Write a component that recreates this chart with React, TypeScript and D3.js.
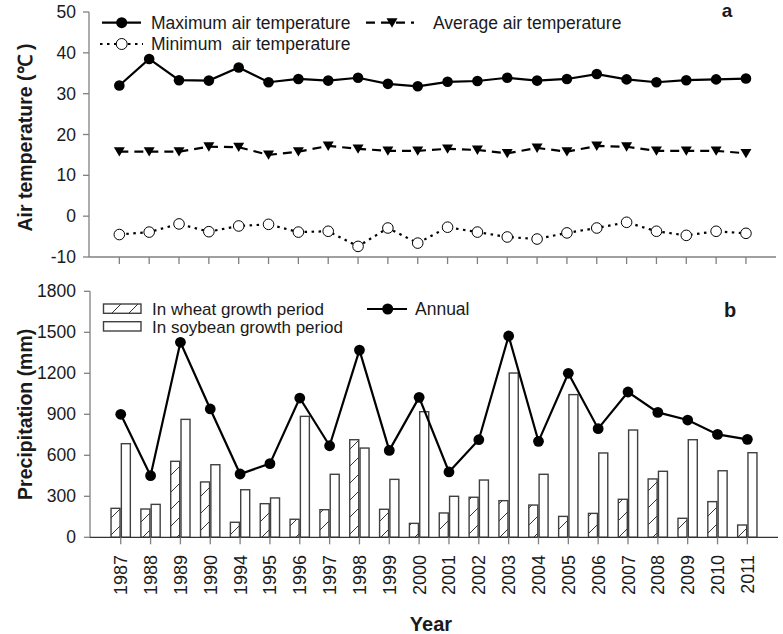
import React from "react";
import * as d3 from "d3";

const years = ["1987","1988","1989","1990","1994","1995","1996","1997","1998","1999","2000","2001","2002","2003","2004","2005","2006","2007","2008","2009","2010","2011"];
const maxTemp = [32.0,38.5,33.3,33.2,36.4,32.8,33.6,33.2,33.9,32.4,31.8,32.9,33.1,33.9,33.2,33.6,34.8,33.5,32.8,33.3,33.5,33.7];
const avgTemp = [15.8,15.8,15.8,17.0,16.9,15.0,15.8,17.2,16.5,16.0,16.0,16.5,16.2,15.4,16.7,15.8,17.2,17.0,16.0,16.0,16.0,15.4];
const minTemp = [-4.5,-3.9,-1.9,-3.8,-2.4,-2.0,-3.9,-3.7,-7.4,-2.9,-6.6,-2.7,-3.9,-5.1,-5.6,-4.1,-2.9,-1.5,-3.7,-4.7,-3.7,-4.2];
const annualPrecip = [900,451,1427,939,463,539,1019,670,1370,636,1024,478,714,1473,702,1200,795,1063,914,858,753,717];
const wheatPrecip = [212,207,556,405,110,246,132,202,714,205,102,178,293,268,236,153,175,278,427,139,261,90];
const soyPrecip = [685,241,863,531,348,288,885,461,653,424,919,300,419,1202,461,1044,617,785,483,714,487,619];
const tempTicks = [-10,0,10,20,30,40,50];
const precipTicks = [0,300,600,900,1200,1500,1800];

const FONT = "'Liberation Sans', Arial, sans-serif";
const TXT = "#1a1a1a";
const AX = "#808080";

export default function App() {
  const idx = years.map((_, i) => i);
  const xTop = d3.scaleLinear().domain([-1, 22]).range([89.5, 775.8]);
  const xBot = d3.scaleLinear().domain([-1, 22]).range([90.9, 777.2]);
  const yTop = d3.scaleLinear().domain([-10, 50]).range([257, 12]);
  const yBot = d3.scaleLinear().domain([0, 1800]).range([537.3, 291.3]);

  const lineTop = (vals: number[]) =>
    d3.line<number>().x((_, i) => xTop(i)).y((v) => yTop(v))(vals) || "";
  const lineBot = d3.line<number>().x((_, i) => xBot(i)).y((v) => yBot(v))(annualPrecip) || "";

  const tri = (cx: number, cy: number, s = 5.5) =>
    `M${cx - s},${cy - s * 0.8}L${cx + s},${cy - s * 0.8}L${cx},${cy + s * 0.9}Z`;

  return (
    <svg width={783} height={634} style={{ position: "absolute", left: 0, top: 0, background: "#fff" }} fontFamily={FONT}>
      <defs>
        <pattern id="hatch" patternUnits="userSpaceOnUse" width={17} height={17}>
          <rect width={17} height={17} fill="#fff" />
          <path d="M0,17L17,0M-4,4L4,-4M13,21L21,13" stroke="#333" strokeWidth={1} />
        </pattern>
      </defs>

      {/* ===== Panel a ===== */}
      <line x1={89} x2={89} y1={yTop(50)} y2={yTop(-10)} stroke={AX} strokeWidth={1.3} />
      <line x1={89} x2={776} y1={yTop(-10)} y2={yTop(-10)} stroke={AX} strokeWidth={1.3} />
      {tempTicks.map((t) => (
        <g key={"tt" + t}>
          <line x1={83} x2={89} y1={yTop(t)} y2={yTop(t)} stroke={AX} strokeWidth={1.3} />
          <text x={76} y={yTop(t) + 6} textAnchor="end" fontSize={17.5} fill={TXT}>{t}</text>
        </g>
      ))}
      {idx.map((i) => (
        <line key={"xt" + i} x1={xTop(i)} x2={xTop(i)} y1={yTop(-10)} y2={yTop(-10) + 7} stroke={AX} strokeWidth={1.3} />
      ))}
      <text transform={`translate(32,${(yTop(50) + yTop(-10)) / 2 + 3}) rotate(-90)`} textAnchor="middle" fontSize={19.5} fontWeight="bold" fill={TXT} style={{ whiteSpace: "pre" }}>Air temperature (℃ )</text>

      <path d={lineTop(maxTemp)} fill="none" stroke="#000" strokeWidth={2.2} />
      <path d={lineTop(avgTemp)} fill="none" stroke="#000" strokeWidth={2.2} strokeDasharray="9,6" />
      <path d={lineTop(minTemp)} fill="none" stroke="#000" strokeWidth={2.2} strokeDasharray="2.5,4.5" />
      {maxTemp.map((v, i) => <circle key={"mx" + i} cx={xTop(i)} cy={yTop(v)} r={5.3} fill="#000" />)}
      {avgTemp.map((v, i) => <path key={"av" + i} d={tri(xTop(i), yTop(v))} fill="#000" />)}
      {minTemp.map((v, i) => <circle key={"mn" + i} cx={xTop(i)} cy={yTop(v)} r={5.3} fill="#fff" stroke="#000" strokeWidth={1} />)}

      {/* legend a */}
      <line x1={102} x2={141} y1={22.7} y2={22.7} stroke="#000" strokeWidth={2.2} />
      <circle cx={121.7} cy={22.7} r={5.5} fill="#000" />
      <text x={151} y={28.5} fontSize={17.5} fill={TXT}>Maximum air temperature</text>
      <line x1={100} x2={143} y1={44} y2={44} stroke="#000" strokeWidth={2.2} strokeDasharray="2.5,4.5" />
      <circle cx={121.7} cy={44} r={5.5} fill="#fff" stroke="#000" strokeWidth={1} />
      <text x={151} y={50} fontSize={17.5} fill={TXT} style={{ whiteSpace: "pre" }}>Minimum  air temperature</text>
      <line x1={366} x2={414} y1={22.7} y2={22.7} stroke="#000" strokeWidth={2.2} strokeDasharray="9,6" />
      <path d={tri(392, 22.7)} fill="#000" />
      <text x={433} y={28.5} fontSize={17.5} fill={TXT}>Average air temperature</text>
      <text x={727} y={16.5} textAnchor="middle" fontSize={19} fontWeight="bold" fill={TXT}>a</text>

      {/* ===== Panel b ===== */}
      {idx.map((i) => (
        <g key={"bar" + i}>
          <rect x={xBot(i) - 9.7} y={yBot(wheatPrecip[i])} width={9} height={yBot(0) - yBot(wheatPrecip[i])} fill="url(#hatch)" stroke="#404040" strokeWidth={1.4} />
          <rect x={xBot(i) + 0.6} y={yBot(soyPrecip[i])} width={9} height={yBot(0) - yBot(soyPrecip[i])} fill="#fff" stroke="#404040" strokeWidth={1.4} />
        </g>
      ))}
      <line x1={90} x2={90} y1={yBot(1800)} y2={yBot(0)} stroke={AX} strokeWidth={1.3} />
      <line x1={90} x2={778} y1={yBot(0)} y2={yBot(0)} stroke="#333" strokeWidth={1.3} />
      {precipTicks.map((t) => (
        <g key={"pt" + t}>
          <line x1={84} x2={90} y1={yBot(t)} y2={yBot(t)} stroke={AX} strokeWidth={1.3} />
          <text x={76} y={yBot(t) + 6} textAnchor="end" fontSize={17.5} fill={TXT}>{t}</text>
        </g>
      ))}
      {idx.map((i) => (
        <g key={"xb" + i}>
          <line x1={xBot(i)} x2={xBot(i)} y1={yBot(0)} y2={yBot(0) + 7} stroke={AX} strokeWidth={1.3} />
          <text transform={`translate(${xBot(i) + 6.5},555) rotate(-90)`} textAnchor="end" fontSize={18} fill={TXT}>{years[i]}</text>
        </g>
      ))}
      <path d={lineBot} fill="none" stroke="#000" strokeWidth={2.2} />
      {annualPrecip.map((v, i) => <circle key={"an" + i} cx={xBot(i)} cy={yBot(v)} r={5.4} fill="#000" />)}
      <text transform={`translate(32,${(yBot(1800) + yBot(0)) / 2}) rotate(-90)`} textAnchor="middle" fontSize={19.5} fontWeight="bold" fill={TXT}>Precipitation (mm)</text>
      <text x={431} y={631} textAnchor="middle" fontSize={20} fontWeight="bold" fill={TXT}>Year</text>

      {/* legend b */}
      <rect x={103.5} y={304} width={37.5} height={9.3} fill="url(#hatch)" stroke="#404040" strokeWidth={1.4} />
      <text x={152} y={314.5} fontSize={17} fill={TXT}>In wheat growth period</text>
      <rect x={103.5} y={321.7} width={37.5} height={9.3} fill="#fff" stroke="#404040" strokeWidth={1.4} />
      <text x={152} y={333} fontSize={17} fill={TXT}>In soybean growth period</text>
      <line x1={367} x2={407} y1={309} y2={309} stroke="#000" strokeWidth={2.2} />
      <circle cx={387.7} cy={309} r={5.5} fill="#000" />
      <text x={415} y={315} fontSize={17.5} fill={TXT}>Annual</text>
      <text x={730} y={317} textAnchor="middle" fontSize={20} fontWeight="bold" fill={TXT}>b</text>
    </svg>
  );
}
